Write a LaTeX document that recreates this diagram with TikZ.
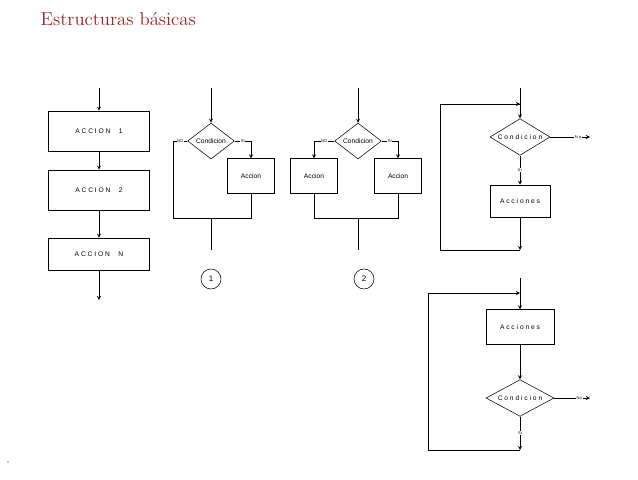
\documentclass[tikz,border=0pt]{standalone}
\usepackage{fontspec}
\setsansfont{Liberation Sans}
\usetikzlibrary{shapes.geometric, arrows}
\definecolor{titlered}{RGB}{150,35,35}
\tikzstyle{process} = [rectangle, draw=black, font=\sffamily\fontsize{5}{6}\selectfont, inner sep=0pt]
\tikzstyle{decision} = [diamond, draw=black, aspect=1.4, inner sep=0pt, font=\sffamily\fontsize{5}{6}\selectfont]
\tikzstyle{arrow} = [thin,->,>=stealth]
\tikzstyle{tag} = [font=\sffamily\fontsize{3}{4}\selectfont, fill=white, inner sep=0.5pt]
\begin{document}
\begin{tikzpicture}[x=0.75pt,y=-0.75pt]
\useasboundingbox (0,0) rectangle (638,479);
\node[anchor=west, text=titlered, font=\fontsize{14}{16}\selectfont] (title) at (36,19) {Estructuras básicas};
\fill (8,462) circle (0.6);

%%%%% SECUENCIA
\node (acc1) [process, minimum width=76pt, minimum height=30pt] at (99,131) {A C C I O N \quad 1};
\node (acc2) [process, minimum width=76pt, minimum height=30pt] at (99,190) {A C C I O N \quad 2};
\node (accn) [process, minimum width=76pt, minimum height=24pt] at (99,254) {A C C I O N \quad N};
\coordinate (s0) at (99,88);
\coordinate (s1) at (99,300);
\draw [arrow] (s0) -- (acc1);
\draw [arrow] (acc1) -- (acc2);
\draw [arrow] (acc2) -- (accn);
\draw [arrow] (accn) -- (s1);

%%%%% SI - ENTONCES
\node (cond1) [decision, minimum width=35pt, minimum height=27pt] at (211,141) {Condicion};
\node (act1) [process, minimum width=35pt, minimum height=26pt] at (251,176) {Accion};
\coordinate (a0) at (211,88);
\coordinate (aj) at (211,218);
\coordinate (a1) at (211,250);
\draw [arrow] (a0) -- (cond1.north);
\draw [arrow] (cond1.east) -- node[tag]{SI} (251,141) -- (act1.north);
\draw (cond1.west) -- node[tag]{NO} (173,141) -- (173,218) -- (aj);
\draw (act1.south) -- (251,218) -- (aj);
\draw (aj) -- (a1);
\node (uno) [circle, draw, minimum size=15pt, inner sep=0pt, font=\sffamily\fontsize{6}{7}\selectfont] at (211,279) {1};

%%%%% SI - ENTONCES - SINO
\node (cond2) [decision, minimum width=35pt, minimum height=27pt] at (358,141) {Condicion};
\node (act2) [process, minimum width=35pt, minimum height=26pt] at (314,176) {Accion};
\node (act3) [process, minimum width=35pt, minimum height=26pt] at (398,176) {Accion};
\coordinate (b0) at (358,88);
\coordinate (bj) at (358,218);
\coordinate (b1) at (358,250);
\draw [arrow] (b0) -- (cond2.north);
\draw [arrow] (cond2.west) -- node[tag]{NO} (314,141) -- (act2.north);
\draw [arrow] (cond2.east) -- node[tag]{SI} (398,141) -- (act3.north);
\draw (act2.south) -- (314,218) -- (bj);
\draw (act3.south) -- (398,218) -- (bj);
\draw (bj) -- (b1);
\node (dos) [circle, draw, minimum size=15pt, inner sep=0pt, font=\sffamily\fontsize{6}{7}\selectfont] at (364,279) {2};

%%%%% MIENTRAS
\node (cond3) [decision, minimum width=45pt, minimum height=23pt] at (520,137) {C o n d i c i o n};
\node (act4) [process, minimum width=45pt, minimum height=24pt] at (520,201) {A c c i o n e s};
\coordinate (c0) at (520,88);
\coordinate (cj) at (520,104);
\coordinate (c1) at (590,137);
\draw [arrow] (c0) -- (cond3.north);
\draw [arrow] (cond3.south) -- node[tag]{S i} (act4.north);
\draw [arrow] (cond3.east) -- node[tag, pos=0.7]{N o} (c1);
\draw [arrow] (act4.south) -- (520,250);
\draw (520,250) -- (440,250) -- (440,104) -- (cj);
\draw [arrow] (440,104) -- (cj);

%%%%% REPETIR
\node (act5) [process, minimum width=51pt, minimum height=26pt] at (520,327) {A c c i o n e s};
\node (cond4) [decision, minimum width=51pt, minimum height=26pt] at (520,398) {C o n d i c i o n};
\coordinate (d0) at (520,278);
\coordinate (dj) at (520,293);
\coordinate (d1) at (590,398);
\coordinate (d2) at (520,450);
\draw [arrow] (d0) -- (act5.north);
\draw [arrow] (act5.south) -- (cond4.north);
\draw [arrow] (cond4.east) -- node[tag, pos=0.7]{No} (d1);
\draw [arrow] (cond4.south) -- node[tag]{Si} (d2);
\draw (d2) -- (428,450) -- (428,293);
\draw [arrow] (428,293) -- (dj);
\end{tikzpicture}
\end{document}
